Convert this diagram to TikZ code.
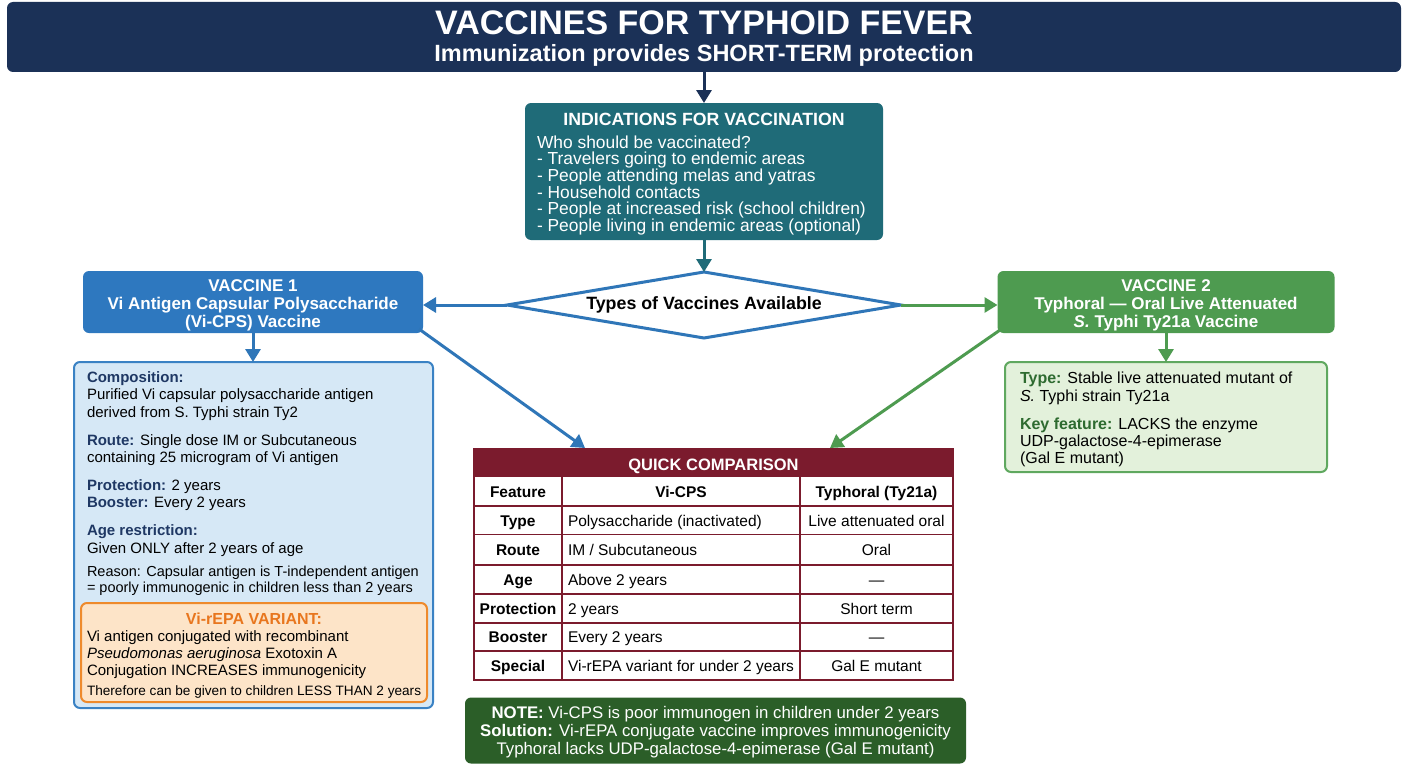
\documentclass[tikz,border=0pt]{standalone}
\usepackage{fontspec}
\setmainfont{Liberation Sans}
\usetikzlibrary{arrows.meta,shapes.geometric}
\definecolor{navy}{HTML}{1B3157}
\definecolor{tealc}{HTML}{1F6B78}
\definecolor{blueA}{HTML}{2E78BF}
\definecolor{blueL}{HTML}{2F76B8}
\definecolor{greenA}{HTML}{4E9B50}
\definecolor{lblue}{HTML}{D6E8F6}
\definecolor{bblue}{HTML}{3A82C4}
\definecolor{lgreen}{HTML}{E3F1DB}
\definecolor{bgreen}{HTML}{5FA85F}
\definecolor{ofill}{HTML}{FDE4C8}
\definecolor{oline}{HTML}{EE8A2C}
\definecolor{otext}{HTML}{E8761E}
\definecolor{dred}{HTML}{7B1B2D}
\definecolor{notegreen}{HTML}{2B5E28}
\definecolor{labA}{HTML}{1F3864}
\definecolor{labB}{HTML}{2E6B30}
\newcommand{\fs}[1]{\fontsize{#1}{#1}\selectfont}
\tikzset{
  every node/.style={inner sep=0pt, outer sep=0pt},
  box/.style={rectangle, rounded corners=6pt},
  conn/.style={line width=3pt, -{Triangle[length=13pt,width=15pt]}},
  lt/.style={anchor=base west},
  ct/.style={anchor=base},
  grid/.style={draw=dred, line width=1.5pt},
}
\begin{document}
\begin{tikzpicture}[x=1pt,y=-1pt]
\useasboundingbox (0,0) rectangle (1408,768);
\fill[white] (0,0) rectangle (1408,768);

% ---------- title ----------
\node[box, fill=navy, minimum width=1394pt, minimum height=70pt] (title) at (704,37) {};
\node[ct, text=white, font=\fs{34}\bfseries] (tt1) at (704,35) {VACCINES FOR TYPHOID FEVER};
\node[ct, text=white, font=\fs{23.5}\bfseries] (tt2) at (704,62) {Immunization provides SHORT-TERM protection};

% ---------- indications ----------
\node[box, fill=tealc, minimum width=358pt, minimum height=137pt] (ind) at (704,171.5) {};
\node[ct, text=white, font=\fs{17.7}\bfseries] (indt) at (704,125.5) {INDICATIONS FOR VACCINATION};
\foreach \yy/\tx [count=\i] in {148/{Who should be vaccinated?},164.5/{- Travelers going to endemic areas},181/{- People attending melas and yatras},198/{- Household contacts},214.5/{- People at increased risk (school children)},231/{- People living in endemic areas (optional)}}
  \node[lt, text=white, font=\fs{17.4}] (indl\i) at (537,\yy) {\tx};

% ---------- diamond ----------
\node[diamond, draw=blueL, line width=3pt, fill=white, aspect=6, minimum width=394pt, minimum height=66pt, font=\fs{17.8}\bfseries] (dia) at (704,305) {Types of Vaccines Available};

% ---------- vaccine boxes ----------
\node[box, fill=blueA, minimum width=340pt, minimum height=62pt] (v1) at (253,302) {};
\node[ct, text=white, font=\fs{17}\bfseries] (v1a) at (253,291) {VACCINE 1};
\node[ct, text=white, font=\fs{17}\bfseries] (v1b) at (253,309) {Vi Antigen Capsular Polysaccharide};
\node[ct, text=white, font=\fs{17}\bfseries] (v1c) at (253,327) {(Vi-CPS) Vaccine};

\node[box, fill=greenA, minimum width=337pt, minimum height=62pt] (v2) at (1166,302) {};
\node[ct, text=white, font=\fs{17}\bfseries] (v2a) at (1166,291) {VACCINE 2};
\node[ct, text=white, font=\fs{17}\bfseries] (v2b) at (1166,309) {Typhoral — Oral Live Attenuated};
\node[ct, text=white, font=\fs{17}\bfseries] (v2c) at (1166,327) {\textit{S.} Typhi Ty21a Vaccine};

% ---------- details 1 ----------
\node[box, fill=lblue, draw=bblue, line width=2pt, minimum width=359pt, minimum height=346pt] (d1) at (253.5,535) {};
\node[lt, font=\fs{15}\bfseries, text=labA] (d1a) at (87,382.5) {Composition:};
\node[lt, font=\fs{15}] (d1b) at (87,399.5) {Purified Vi capsular polysaccharide antigen};
\node[lt, font=\fs{15}] (d1c) at (87,417.5) {derived from S. Typhi strain Ty2};
\node[lt, font=\fs{15}] (d1d) at (87,445.5) {\textcolor{labA}{\bfseries Route:} Single dose IM or Subcutaneous};
\node[lt, font=\fs{15}] (d1e) at (87,462.5) {containing 25 microgram of Vi antigen};
\node[lt, font=\fs{15}] (d1f) at (87,490.5) {\textcolor{labA}{\bfseries Protection:} 2 years};
\node[lt, font=\fs{15}] (d1g) at (87,507.5) {\textcolor{labA}{\bfseries Booster:} Every 2 years};
\node[lt, font=\fs{15}\bfseries, text=labA] (d1h) at (87,535.5) {Age restriction:};
\node[lt, font=\fs{15}] (d1i) at (87,553.5) {Given ONLY after 2 years of age};
\node[lt, font=\fs{14.5}] (d1j) at (87,576) {Reason: Capsular antigen is T-independent antigen};
\node[lt, font=\fs{14.5}] (d1k) at (87,592) {= poorly immunogenic in children less than 2 years};

\node[box, fill=ofill, draw=oline, line width=2pt, minimum width=346pt, minimum height=99pt] (o1) at (254,652.5) {};
\node[ct, font=\fs{16}\bfseries, text=otext] (o1a) at (254,624) {Vi-rEPA VARIANT:};
\node[lt, font=\fs{15}] (o1b) at (87,641.5) {Vi antigen conjugated with recombinant};
\node[lt, font=\fs{15}] (o1c) at (87,658.5) {\textit{Pseudomonas aeruginosa} Exotoxin A};
\node[lt, font=\fs{15}] (o1d) at (87,675.5) {Conjugation INCREASES immunogenicity};
\node[lt, font=\fs{13.6}] (o1e) at (87,695) {Therefore can be given to children LESS THAN 2 years};

% ---------- details 2 ----------
\node[box, fill=lgreen, draw=bgreen, line width=2pt, minimum width=322pt, minimum height=110pt] (d2) at (1166,417) {};
\node[lt, font=\fs{16}] (d2a) at (1020,383) {\textcolor{labB}{\bfseries Type:} Stable live attenuated mutant of};
\node[lt, font=\fs{16}] (d2b) at (1020,401) {\textit{S.} Typhi strain Ty21a};
\node[lt, font=\fs{16}] (d2c) at (1020,429) {\textcolor{labB}{\bfseries Key feature:} LACKS the enzyme};
\node[lt, font=\fs{16}] (d2d) at (1020,446) {UDP-galactose-4-epimerase};
\node[lt, font=\fs{16}] (d2e) at (1020,463) {(Gal E mutant)};

% ---------- table ----------
\node[rectangle, fill=white, draw=dred, line width=2pt, minimum width=479pt, minimum height=231pt] (tbl) at (713.5,564.5) {};
\node[rectangle, fill=dred, minimum width=479pt, minimum height=28pt] (tbh) at (713.5,463) {};
\node[ct, text=white, font=\fs{16.5}\bfseries] (tbht) at (713.5,470) {QUICK COMPARISON};
\foreach \yy in {506,534.5,565,594,623,651}
  \draw[grid] (474,\yy) -- (953,\yy);
\draw[grid] (562,477) -- (562,680);
\draw[grid] (800,477) -- (800,680);
\draw[draw=dred, line width=2pt] (474,449) rectangle (953,680);
% header row
\node[ct, font=\fs{15.5}\bfseries] (th1) at (518,497.5) {Feature};
\node[ct, font=\fs{15.5}\bfseries] (th2) at (681,497.5) {Vi-CPS};
\node[ct, font=\fs{15.5}\bfseries] (th3) at (876.5,497.5) {Typhoral (Ty21a)};
\foreach \yy/\a/\b/\c [count=\i] in {526/Type/{Polysaccharide (inactivated)}/{Live attenuated oral},555.5/Route/{IM / Subcutaneous}/Oral,585/Age/{Above 2 years}/—,614/Protection/{2 years}/{Short term},642.5/Booster/{Every 2 years}/—,671/Special/{Vi-rEPA variant for under 2 years}/{Gal E mutant}}{
  \node[ct, font=\fs{15.5}\bfseries] (ra\i) at (518,\yy) {\a};
  \node[lt, font=\fs{15.5}] (rb\i) at (568,\yy) {\b};
  \node[ct, font=\fs{15.5}] (rc\i) at (876.5,\yy) {\c};
}

% ---------- note ----------
\node[box, fill=notegreen, minimum width=501pt, minimum height=66pt] (note) at (715.5,730.5) {};
\node[ct, text=white, font=\fs{16.8}] (n1) at (715.5,718) {\textbf{NOTE:} Vi-CPS is poor immunogen in children under 2 years};
\node[ct, text=white, font=\fs{16.8}] (n2) at (715.5,736) {\textbf{Solution:} Vi-rEPA conjugate vaccine improves immunogenicity};
\node[ct, text=white, font=\fs{16.8}] (n3) at (715.5,754) {Typhoral lacks UDP-galactose-4-epimerase (Gal E mutant)};

% ---------- connectors ----------
\coordinate (ta) at (585,448);
\coordinate (tb) at (830,448);
\draw[conn, navy] (title) -- (ind);
\draw[conn, tealc] (ind) -- (dia);
\draw[conn, blueL] (dia.west) -- (dia.west -| v1.east);
\draw[conn, greenA] (dia.east) -- (dia.east -| v2.west);
\draw[conn, blueL] (v1.south) -- (v1.south |- d1.north);
\draw[conn, greenA] (v2.south) -- (v2.south |- d2.north);
\draw[conn, blueL] ([shift={(-4pt,4pt)}]v1.south east) -- (ta);
\draw[conn, greenA] ([shift={(4pt,4pt)}]v2.south west) -- (tb);
\end{tikzpicture}
\end{document}
